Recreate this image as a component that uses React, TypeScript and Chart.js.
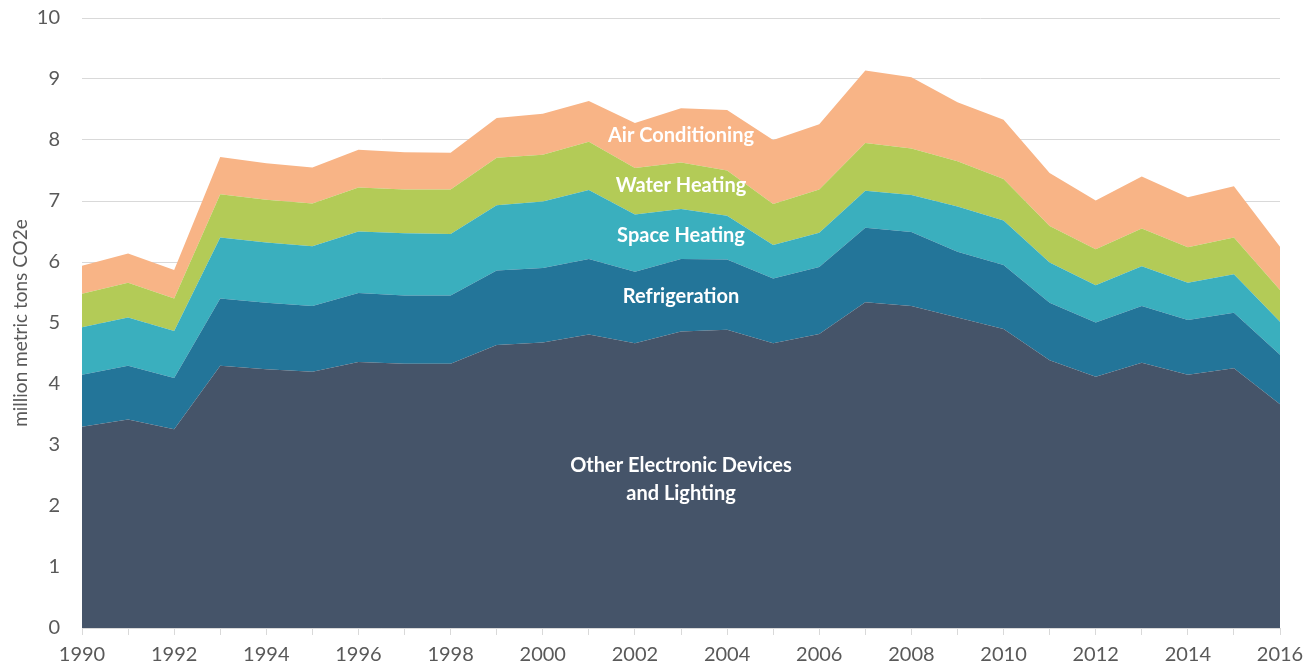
import React, { useEffect, useRef } from "react";
import { Chart, registerables } from "chart.js";

Chart.register(...registerables);

const years = [
  "1990", "1991", "1992", "1993", "1994", "1995", "1996", "1997", "1998", "1999",
  "2000", "2001", "2002", "2003", "2004", "2005", "2006", "2007", "2008", "2009",
  "2010", "2011", "2012", "2013", "2014", "2015", "2016",
];

const otherElectronics = [
  3.30, 3.42, 3.26, 4.30, 4.24, 4.20, 4.36, 4.33, 4.33, 4.64,
  4.68, 4.81, 4.67, 4.86, 4.89, 4.67, 4.82, 5.34, 5.28, 5.09,
  4.90, 4.39, 4.12, 4.35, 4.15, 4.26, 3.67,
];
const refrigeration = [
  0.85, 0.88, 0.84, 1.10, 1.09, 1.08, 1.13, 1.12, 1.12, 1.22,
  1.22, 1.24, 1.17, 1.19, 1.15, 1.06, 1.10, 1.22, 1.21, 1.08,
  1.05, 0.94, 0.89, 0.93, 0.90, 0.91, 0.81,
];
const spaceHeating = [
  0.78, 0.79, 0.77, 1.00, 0.99, 0.98, 1.01, 1.02, 1.01, 1.07,
  1.09, 1.13, 0.94, 0.82, 0.72, 0.55, 0.56, 0.61, 0.61, 0.74,
  0.73, 0.66, 0.61, 0.65, 0.61, 0.63, 0.54,
];
const waterHeating = [
  0.55, 0.57, 0.53, 0.71, 0.70, 0.70, 0.72, 0.72, 0.73, 0.78,
  0.77, 0.79, 0.76, 0.76, 0.74, 0.67, 0.71, 0.78, 0.76, 0.74,
  0.68, 0.60, 0.59, 0.62, 0.58, 0.60, 0.52,
];
const airConditioning = [
  0.46, 0.48, 0.47, 0.61, 0.60, 0.59, 0.62, 0.61, 0.60, 0.65,
  0.67, 0.67, 0.74, 0.89, 0.99, 1.05, 1.07, 1.19, 1.17, 0.97,
  0.97, 0.87, 0.80, 0.85, 0.82, 0.84, 0.71,
];

const yTicks = [0, 1, 2, 3, 4, 5, 6, 7, 8, 9, 10];

const areaLabels = [
  { lines: ["Air Conditioning"], at: 13, value: 8.08 },
  { lines: ["Water Heating"], at: 13, value: 7.25 },
  { lines: ["Space Heating"], at: 13, value: 6.44 },
  { lines: ["Refrigeration"], at: 13, value: 5.44 },
  { lines: ["Other Electronic Devices", "and Lighting"], at: 13, value: 2.66 },
];

const FONT = "Lato, 'Open Sans', sans-serif";

const labelPlugin = {
  id: "areaLabels",
  afterDatasetsDraw(chart: any) {
    const { ctx, scales } = chart;
    ctx.save();
    ctx.fillStyle = "#ffffff";
    ctx.font = `bold 20px ${FONT}`;
    ctx.textAlign = "center";
    ctx.textBaseline = "middle";
    for (const l of areaLabels) {
      const x = scales.x.getPixelForValue(l.at);
      const y0 = scales.y.getPixelForValue(l.value);
      l.lines.forEach((t, i) => ctx.fillText(t, x, y0 + i * 28));
    }
    ctx.restore();
  },
};

export default function App() {
  const ref = useRef<HTMLCanvasElement | null>(null);
  useEffect(() => {
    if (!ref.current) return;
    const mk = (label: string, data: number[], color: string, fill: any) => ({
      label,
      data,
      backgroundColor: color,
      borderColor: color,
      borderWidth: 0,
      pointRadius: 0,
      tension: 0,
      fill,
    });
    const chart = new Chart(ref.current, {
      type: "line",
      data: {
        labels: years,
        datasets: [
          mk("Other Electronic Devices and Lighting", otherElectronics, "#455469", "origin"),
          mk("Refrigeration", refrigeration, "#237599", "-1"),
          mk("Space Heating", spaceHeating, "#3AAFBE", "-1"),
          mk("Water Heating", waterHeating, "#B3CB57", "-1"),
          mk("Air Conditioning", airConditioning, "#F8B486", "-1"),
        ],
      },
      options: {
        animation: false,
        responsive: true,
        maintainAspectRatio: false,
        layout: { padding: { top: 18, right: 36, bottom: 0, left: 0 } },
        plugins: { legend: { display: false }, tooltip: { enabled: false } },
        elements: { line: { borderWidth: 0 } },
        scales: {
          x: {
            type: "category",
            offset: false,
            grid: {
              display: true,
              drawOnChartArea: false,
              drawTicks: true,
              tickLength: 7,
              color: "#D9D9D9",
              offset: false,
            },
            border: { display: true, color: "#D9D9D9" },
            ticks: {
              autoSkip: false,
              maxRotation: 0,
              padding: 8,
              color: "#595959",
              font: { family: FONT, size: 20 },
              callback: (_v: any, i: number) => (i % 2 === 0 ? years[i] : ""),
            },
            afterFit: (s: any) => {
              s.height = 42;
            },
          },
          y: {
            stacked: true,
            min: 0,
            max: 10,
            afterBuildTicks: (s: any) => {
              s.ticks = yTicks.map((v) => ({ value: v }));
            },
            grid: { color: "#D9D9D9", drawTicks: false },
            border: { display: false },
            ticks: {
              padding: 22,
              color: "#595959",
              font: { family: FONT, size: 20 },
            },
            title: {
              display: true,
              text: "million metric tons CO2e",
              color: "#595959",
              font: { family: FONT, size: 19 },
              padding: { top: 9, bottom: 0 },
            },
            afterFit: (s: any) => {
              s.width = 82;
              s.paddingTop = 0;
              s.paddingBottom = 0;
            },
          },
        },
      },
      plugins: [labelPlugin],
    });
    return () => chart.destroy();
  }, []);
  return (
    <div style={{ position: "fixed", left: 0, top: 0, width: 1316, height: 670, background: "#fff" }}>
      <canvas ref={ref} />
    </div>
  );
}
